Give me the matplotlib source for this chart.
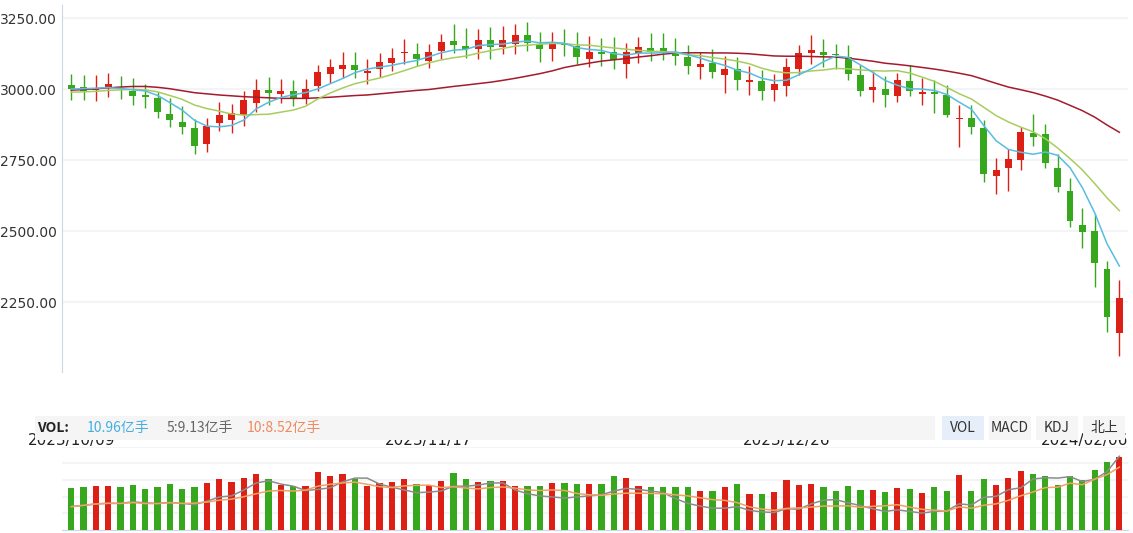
import numpy as np
import pandas as pd
import matplotlib
matplotlib.use('Agg')
import matplotlib.pyplot as plt
from matplotlib.patches import Rectangle
from matplotlib.transforms import blended_transform_factory

plt.rcParams['font.family'] = ['DejaVu Sans', 'Noto Sans CJK SC']

# daily candles, 2023/10/09 .. 2024/02/06
opens = [3015, 3008, 2996, 3009, 3005, 2995, 2981, 2969, 2913, 2885,
         2864, 2807, 2882, 2892, 2908, 2951, 2998, 2985, 2994, 2965,
         3013, 3055, 3071, 3085, 3058, 3070, 3094, 3128, 3123, 3101,
         3136, 3170, 3152, 3143, 3174, 3149, 3159, 3191, 3159, 3142,
         3163, 3152, 3107, 3131, 3131, 3089, 3128, 3145, 3145, 3131,
         3114, 3079, 3093, 3050, 3071, 3026, 3030, 2998, 3012, 3071,
         3128, 3131, 3121, 3114, 3050, 2999, 3001, 2976, 3029, 2985,
         2988, 2980, 2896, 2899, 2864, 2696, 2724, 2752, 2846, 2843,
         2723, 2642, 2522, 2501, 2368, 2143]
highs = [3054, 3050, 3050, 3056, 3047, 3040, 3019, 2989, 2968, 2941,
         2894, 2899, 2955, 2948, 2993, 3036, 3043, 3036, 3033, 3036,
         3086, 3107, 3131, 3131, 3107, 3128, 3145, 3177, 3163, 3160,
         3195, 3230, 3216, 3212, 3219, 3223, 3230, 3237, 3202, 3202,
         3212, 3202, 3188, 3181, 3184, 3163, 3184, 3198, 3198, 3181,
         3156, 3131, 3142, 3117, 3114, 3082, 3068, 3054, 3110, 3156,
         3191, 3177, 3160, 3156, 3086, 3065, 3047, 3057, 3086, 3040,
         3033, 3015, 2944, 2944, 2891, 2758, 2791, 2868, 2913, 2878,
         2771, 2688, 2582, 2561, 2396, 2329]
lows = [2962, 2962, 2960, 2974, 2966, 2946, 2935, 2900, 2868, 2843,
        2772, 2779, 2854, 2847, 2872, 2920, 2945, 2952, 2941, 2948,
        2995, 3023, 3040, 3040, 3019, 3042, 3065, 3090, 3082, 3076,
        3107, 3127, 3109, 3107, 3107, 3124, 3124, 3135, 3096, 3100,
        3117, 3089, 3078, 3082, 3071, 3040, 3093, 3100, 3103, 3086,
        3054, 3036, 3040, 2987, 2997, 2980, 2962, 2959, 2976, 3050,
        3089, 3078, 3071, 3033, 2976, 2955, 2937, 2955, 2976, 2944,
        2917, 2902, 2797, 2843, 2675, 2632, 2643, 2717, 2801, 2724,
        2639, 2516, 2442, 2305, 2147, 2062]
closes = [3001, 2994, 3000, 3019, 3000, 2978, 2974, 2921, 2892, 2867,
          2800, 2871, 2909, 2917, 2962, 2997, 2986, 2994, 2965, 3000,
          3061, 3078, 3085, 3068, 3064, 3095, 3110, 3130, 3107, 3131,
          3165, 3156, 3143, 3174, 3149, 3174, 3191, 3162, 3142, 3159,
          3156, 3114, 3131, 3124, 3102, 3131, 3149, 3131, 3131, 3117,
          3082, 3089, 3061, 3071, 3033, 3033, 2995, 3019, 3079, 3128,
          3138, 3121, 3119, 3055, 2995, 3008, 2980, 3033, 2994, 2988,
          2985, 2909, 2899, 2868, 2703, 2716, 2755, 2850, 2833, 2742,
          2657, 2537, 2499, 2389, 2199, 2265]
# volume, 亿手
volumes = [6.32, 6.47, 6.62, 6.62, 6.47, 6.77, 6.17, 6.47, 6.92, 6.17,
           6.47, 7.07, 7.67, 7.22, 7.82, 8.42, 7.67, 6.77, 6.62, 6.62,
           8.72, 8.12, 8.42, 7.67, 6.62, 7.07, 7.22, 7.67, 6.92, 6.77,
           7.37, 8.57, 7.67, 7.22, 7.37, 7.37, 6.62, 6.62, 6.62, 7.07,
           7.07, 6.92, 6.92, 6.92, 8.12, 7.82, 6.62, 6.47, 6.47, 6.47,
           6.47, 5.88, 5.88, 6.47, 6.92, 5.43, 5.43, 5.73, 7.52, 6.77,
           6.92, 6.47, 5.88, 6.62, 6.02, 6.02, 5.73, 6.32, 6.17, 5.58,
           6.47, 5.88, 8.27, 5.88, 7.67, 6.77, 7.72, 8.82, 8.32, 8.02,
           6.68, 8.12, 7.43, 8.97, 10.16, 10.96]

# moving average values before a full window is available
ma5_head = [3001, 3002, 3004, 3006]
ma10_head = [2990, 2991, 2993, 2996, 2998, 3000, 2998, 2991, 2978]
ma30_head = [2997, 2999, 3002, 3005, 3008, 3010, 3010, 3007, 3002, 2995,
             2988, 2984, 2980, 2977, 2974, 2972, 2970, 2968, 2968, 2968,
             2970, 2972, 2975, 2978, 2980, 2984, 2988, 2992, 2996]

date_labels = ['2023/10/09', '2023/11/17', '2023/12/26', '2024/02/06']
date_pos = [0, 29, 58, 85]
price_ticks = [2250, 2500, 2750, 3000, 3250]
vol_ticks = [2.5, 5, 7.5, 10, 12.5]

RED = '#dd2016'
GREEN = '#37a81e'
GRID = '#f2f4f7'
AXIS = '#ccd6eb'

df = pd.DataFrame({'open': opens, 'high': highs, 'low': lows,
                   'close': closes, 'vol': volumes})
n = len(df)
x = np.arange(n)


def ma_with_head(series, win, head):
    m = series.rolling(win).mean().to_numpy()
    m[:len(head)] = head
    return m


ma5 = ma_with_head(df['close'], 5, ma5_head)
ma10 = ma_with_head(df['close'], 10, ma10_head)
ma30 = ma_with_head(df['close'], 30, ma30_head)
vma5 = df['vol'].rolling(5, min_periods=1).mean()
vma10 = df['vol'].rolling(10, min_periods=1).mean()

up = df['close'] >= df['open']
colors = np.where(up, RED, GREEN)

W, H = 1133, 533
fig = plt.figure(figsize=(W / 100, H / 100), dpi=100)


def box(l, t, r, b):
    return [l / W, 1 - b / H, (r - l) / W, (b - t) / H]


xlim = (-0.75, 85.7)

# price panel
ax = fig.add_axes(box(62, 5, 1128, 372))
ax.vlines(x, df['low'], df['high'], colors=colors, lw=1.0, zorder=2)
body = np.maximum((df['close'] - df['open']).abs(), 4)
ax.bar(x, body, bottom=np.minimum(df['open'], df['close']), width=0.56,
       color=colors, zorder=3)
ax.plot(x, ma30, color='#a31b2d', lw=1.1, zorder=4)
ax.plot(x, ma10, color='#a8cd5f', lw=1.1, zorder=4)
ax.plot(x, ma5, color='#58bde0', lw=1.1, zorder=4)
ax.set_xlim(*xlim)
ax.set_ylim(2004.6, 3296.8)
ax.set_yticks(price_ticks)
ax.set_yticklabels([f'{v:.2f}' for v in price_ticks])
ax.tick_params(axis='y', length=0, pad=4, labelsize=10, labelcolor='#333333')
ax.set_xticks([])
ax.yaxis.grid(True, color=GRID, lw=1.5)
ax.set_axisbelow(True)
for s in ['top', 'right', 'bottom']:
    ax.spines[s].set_visible(False)
ax.spines['left'].set_color(AXIS)

# volume panel
axv = fig.add_axes(box(62, 446.5, 1128, 530))
axv.bar(x, df['vol'], width=0.5, color=colors, zorder=3)
axv.set_xlim(*xlim)
axv.set_ylim(0, 12.5)
axv.set_yticks(vol_ticks)
axv.set_yticklabels([])
axv.tick_params(length=0)
axv.set_xticks([])
axv.yaxis.grid(True, color=GRID, lw=1.5)
axv.set_axisbelow(True)
for s in ['top', 'right', 'left']:
    axv.spines[s].set_visible(False)
axv.spines['bottom'].set_color(AXIS)

axm = axv.twinx()
axm.plot(x, vma5, color='#8c8c8c', lw=1.1)
axm.plot(x, vma10, color='#f0a265', lw=1.1)
axm.set_ylim(5.02, 9.67)
axm.set_yticks([])
for s in axm.spines.values():
    s.set_visible(False)

# date labels, half hidden under the VOL header bar
tr = blended_transform_factory(axv.transData, fig.transFigure)
for i, (lab, p) in enumerate(zip(date_labels, date_pos)):
    last = i == len(date_labels) - 1
    fig.text(xlim[1] if last else p, 1 - 445 / H, lab, transform=tr,
             ha='right' if last else 'center', va='baseline',
             fontsize=11, color='#222222', zorder=3)

# header bar
def rect(l, t, r, b, fc):
    fig.add_artist(Rectangle((l / W, 1 - b / H), (r - l) / W, (b - t) / H,
                             transform=fig.transFigure, facecolor=fc,
                             edgecolor='none', zorder=4))


rect(35, 416, 935, 440, '#f5f5f5')
cjk = ['Noto Sans CJK SC', 'DejaVu Sans']
yc = 1 - 428 / H
fig.text(37 / W, yc, 'VOL:', fontsize=10, fontweight='bold', color='#222222',
         va='center', family=cjk, zorder=5)
fig.text(87 / W, yc, '10.96亿手', fontsize=10, color='#45aee0',
         va='center', family=cjk, zorder=5)
fig.text(167 / W, yc, '5:9.13亿手', fontsize=10, color='#666666',
         va='center', family=cjk, zorder=5)
fig.text(247 / W, yc, '10:8.52亿手', fontsize=10, color='#ee8a5e',
         va='center', family=cjk, zorder=5)

buttons = ['VOL', 'MACD', 'KDJ', '北上']
for k, b in enumerate(buttons):
    l = 942 + k * 47
    rect(l, 416, l + 42, 440, '#e6eef9' if k == 0 else '#f5f5f5')
    fig.text((l + 21) / W, yc, b, fontsize=10, color='#333333', ha='center',
             va='center', family=cjk, zorder=5)

fig.savefig('out.png', dpi=100, facecolor='white')
